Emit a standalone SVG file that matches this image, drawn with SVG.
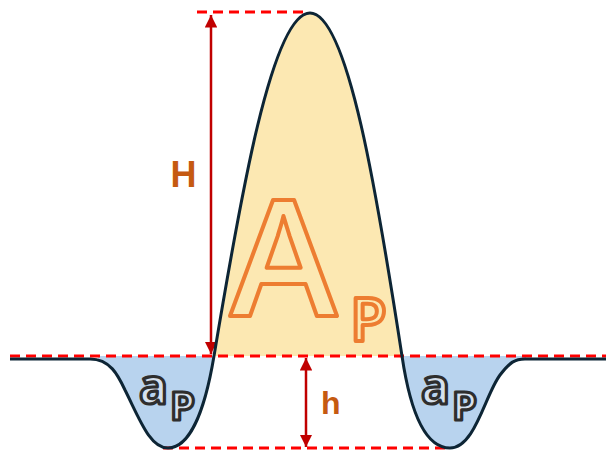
<svg xmlns="http://www.w3.org/2000/svg" width="606" height="450" viewBox="0 0 606 450">
<style>
.dash{stroke:#FF0000;stroke-width:2.8;stroke-dasharray:10 6;fill:none}
.dim{stroke:#C00000;stroke-width:2.5;fill:none}
.lbl{font-family:"Liberation Sans",Arial,sans-serif;font-weight:bold;fill:#C55A11}
.ap{font-family:"Open Sans","Liberation Sans",Arial,sans-serif;font-weight:bold;fill:#D6E1EE;stroke:#2E2E2E;stroke-width:3.2;stroke-linejoin:round}
.big{font-family:"Open Sans","Liberation Sans",Arial,sans-serif;font-weight:600;fill:#FCE8B2;stroke:#ED7D31;stroke-width:4;stroke-linejoin:round}
</style>
<defs>
<marker id="ah" viewBox="0 0 10 10" refX="10" refY="5" markerWidth="5" markerHeight="5" orient="auto-start-reverse" markerUnits="strokeWidth">
<path d="M0,0 L10,5 L0,10 Z" fill="#C00000"/>
</marker>
<clipPath id="top"><rect x="0" y="0" width="606" height="356"/></clipPath>
<clipPath id="bot"><rect x="98" y="356" width="428" height="94"/></clipPath>
</defs>
<g id="fills">
<path clip-path="url(#top)" fill="#FCE8B2" d="M10,359 L90,359 C110,359 118,375 125,390 C140,420 150,448 168,448 C190,448 205,410 214,356 C240,200 272,13 310,13 C348,13 378,200 402,356 C410,410 425,448 450,448 C475,448 485,395 500,375 C510,362 515,359 525,359 L606,359 L606,356 L10,356 Z"/>
<path clip-path="url(#bot)" fill="#B8D3EE" d="M10,359 L90,359 C110,359 118,375 125,390 C140,420 150,448 168,448 C190,448 205,410 214,356 C240,200 272,13 310,13 C348,13 378,200 402,356 C410,410 425,448 450,448 C475,448 485,395 500,375 C510,362 515,359 525,359 L606,359 L606,356 L10,356 Z"/>
</g>
<g id="connectors">
<line class="dash" x1="10" y1="356" x2="606" y2="356"/>
<line class="dash" x1="197" y1="12" x2="306" y2="12"/>
<line class="dash" x1="163" y1="448" x2="450" y2="448"/>
<line class="dim" x1="211" y1="15" x2="211" y2="354" marker-start="url(#ah)" marker-end="url(#ah)"/>
<line class="dim" x1="306" y1="358" x2="306" y2="447" marker-start="url(#ah)" marker-end="url(#ah)"/>
</g>
<g id="curve">
<path fill="none" stroke="#0D2535" stroke-width="3" d="M10,359 L90,359 C110,359 118,375 125,390 C140,420 150,448 168,448 C190,448 205,410 214,356 C240,200 272,13 310,13 C348,13 378,200 402,356 C410,410 425,448 450,448 C475,448 485,395 500,375 C510,362 515,359 525,359 L606,359"/>
</g>
<g id="label-H"><text class="lbl" x="183.5" y="187" font-size="36" text-anchor="middle">H</text></g>
<g id="label-h"><text class="lbl" x="321" y="414" font-size="32">h</text></g>
<g id="label-Ap">
<text class="big" x="230" y="316" font-size="162">A</text>
<text class="big" x="350" y="341" font-size="60" font-weight="bold">P</text>
</g>
<g id="label-ap-left">
<text class="ap" x="139" y="404" font-size="48">a</text>
<text class="ap" x="170" y="420" font-size="40">P</text>
</g>
<g id="label-ap-right">
<text class="ap" x="421" y="404" font-size="48">a</text>
<text class="ap" x="452" y="420" font-size="40">P</text>
</g>
</svg>
